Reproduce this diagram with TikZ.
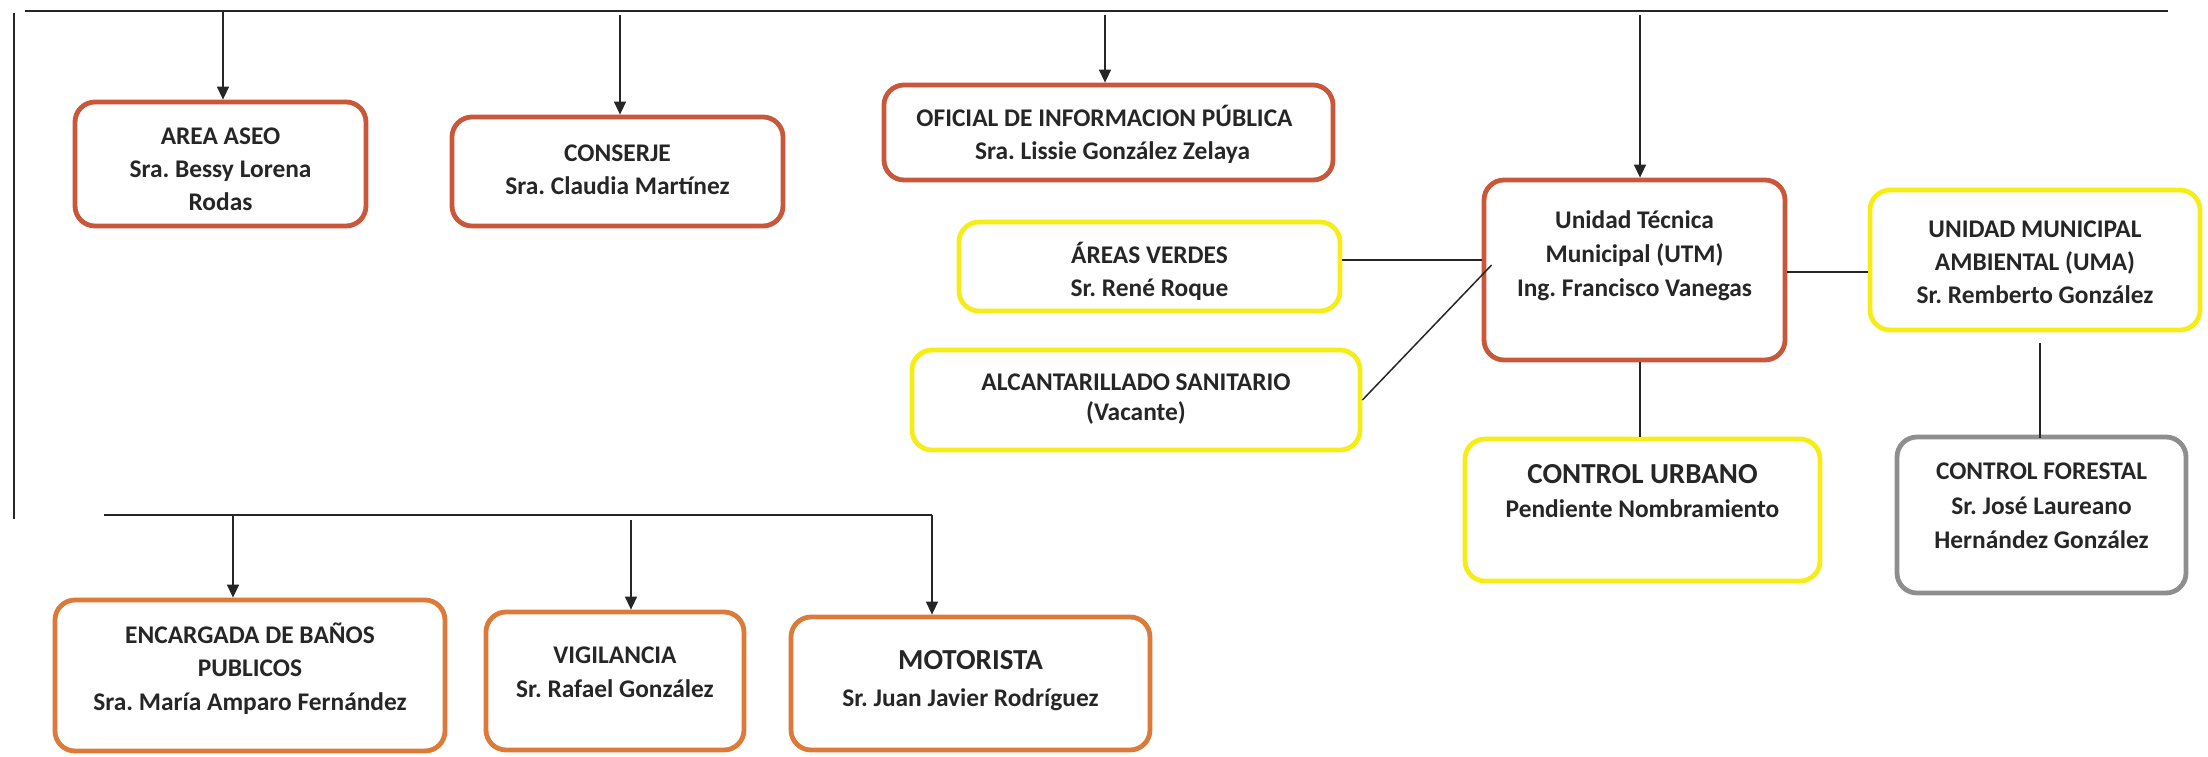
\documentclass[tikz,border=0pt]{standalone}
\usepackage{fontspec}
\setmainfont{Carlito}
\usetikzlibrary{arrows.meta,calc}
\definecolor{redor}{HTML}{C9573A}
\definecolor{oran}{HTML}{DC7A3A}
\definecolor{yel}{HTML}{F6EC16}
\definecolor{gry}{HTML}{8E8E8E}
\definecolor{ink}{HTML}{262626}
\frenchspacing
\begin{document}
\begin{tikzpicture}[x=0.5pt,y=-0.5pt,
  box/.style={draw=#1,line width=2.4pt,rounded corners=10pt,inner sep=0pt},
  txt/.style={font=\bfseries\fontsize{12.7}{16.6}\selectfont,align=center,text=ink,inner sep=0pt},
  conn/.style={draw=ink,line width=0.75pt},
  thick conn/.style={draw=ink,line width=1.2pt},
  arr/.style={conn,-{Triangle[length=6.5pt,width=6pt]}}]
\useasboundingbox (0,0) rectangle (2208,756);

% boxes
\node[box=redor,minimum width=145.5pt,minimum height=62pt] (aseo) at (220.5,164) {};
\node[box=redor,minimum width=165.5pt,minimum height=54.5pt] (conserje) at (617.5,171.5) {};
\node[box=redor,minimum width=224.5pt,minimum height=47.5pt] (oficial) at (1108.5,132.5) {};
\node[box=yel,minimum width=190.5pt,minimum height=44.5pt] (verdes) at (1149.5,266.5) {};
\node[box=yel,minimum width=224pt,minimum height=50pt] (alcant) at (1136,400) {};
\node[box=redor,minimum width=150.5pt,minimum height=90pt] (utm) at (1634.5,270) {};
\node[box=yel,minimum width=165pt,minimum height=70pt] (uma) at (2035,260) {};
\node[box=yel,minimum width=177.5pt,minimum height=71pt] (urbano) at (1642.5,510) {};
\node[box=gry,minimum width=144.5pt,minimum height=78pt] (forestal) at (2041.5,515) {};
\node[box=oran,minimum width=195pt,minimum height=75.5pt] (banos) at (250,675.5) {};
\node[box=oran,minimum width=129pt,minimum height=69pt] (vigil) at (615,681) {};
\node[box=oran,minimum width=179.5pt,minimum height=66.5pt] (motor) at (970.5,683.5) {};

% texts
\node[txt] (aseoT) at ($(aseo)+(0,5)$) {AREA ASEO\\Sra. Bessy Lorena\\Rodas};
\node[txt] (conserjeT) at ($(conserje)+(0,-2)$) {CONSERJE\\Sra. Claudia Martínez};
\node[txt] (oficialT) at ($(oficial)+(-4,2)$) {OFICIAL DE INFORMACION PÚBLICA\\\hspace*{8pt}Sra. Lissie González Zelaya};
\node[txt] (verdesT) at ($(verdes)+(0,5)$) {ÁREAS VERDES\\Sr. René Roque};
\node[txt,font=\bfseries\fontsize{12.7}{14.6}\selectfont] (alcantT) at ($(alcant)+(0,-1)$) {ALCANTARILLADO SANITARIO\\(Vacante)};
\node[txt,font=\fontsize{12.7}{17}\selectfont] (utmT) at ($(utm)+(0,-14)$) {\textbf{Unidad Técnica}\\\textbf{Municipal (UTM)}\\\textbf{Ing. Francisco Vanegas}};
\node[txt] (umaT) at ($(uma)+(0,2)$) {UNIDAD MUNICIPAL\\AMBIENTAL (UMA)\\Sr. Remberto González};
\node[txt,font=\bfseries\fontsize{12.7}{17}\selectfont] (urbanoT) at ($(urbano)+(0,-19)$) {{\fontsize{14.5}{17}\selectfont CONTROL URBANO}\\Pendiente Nombramiento};
\node[txt,font=\bfseries\fontsize{12.7}{17.2}\selectfont] (forestalT) at ($(forestal)+(0,-9)$) {CONTROL FORESTAL\\Sr. José Laureano\\Hernández González};
\node[txt] (banosT) at ($(banos)+(0,-7)$) {ENCARGADA DE BAÑOS\\PUBLICOS\\Sra. María Amparo Fernández};
\node[txt,font=\bfseries\fontsize{12.7}{17.2}\selectfont] (vigilT) at ($(vigil)+(0,-9)$) {VIGILANCIA\\Sr. Rafael González};
\node[txt,font=\bfseries\fontsize{12.7}{18.5}\selectfont] (motorT) at ($(motor)+(0,-3)$) {{\fontsize{14.5}{17}\selectfont MOTORISTA}\\Sr. Juan Javier Rodríguez};

% top bus
\coordinate (tl) at (25,11);
\coordinate (tr) at (2168,11);
\coordinate (lt) at (14,13);
\coordinate (lb) at (14,519);
\draw[thick conn] (tl) -- (tr);
\draw[conn] (lt) -- (lb);
\coordinate (t1) at (223,11);
\coordinate (t2) at (620,15);
\coordinate (t3) at (1105,15);
\coordinate (t4) at (1640,15);
\draw[arr] (t1) -- (t1 |- aseo.north);
\draw[arr] (t2) -- (t2 |- conserje.north);
\draw[arr] (t3) -- (t3 |- oficial.north);
\draw[arr] (t4) -- (t4 |- utm.north);

% bottom bus
\coordinate (bl) at (104,515);
\coordinate (br) at (932,515);
\coordinate (b1) at (233,515);
\coordinate (b2) at (631,520);
\draw[thick conn] (bl) -- (br);
\draw[arr] (b1) -- (b1 |- banos.north);
\draw[arr] (b2) -- (b2 |- vigil.north);
\draw[arr] (br) -- (br |- motor.north);

% UTM links
\coordinate (hv) at (0,260);
\draw[thick conn] (verdes.east |- hv) -- (utm.west |- hv);
\draw[conn] (alcant.east) -- ($(utm.west)+(10,-5)$);
\coordinate (h1) at (0,272);
\draw[thick conn] (utm.east |- h1) -- (uma.west |- h1);
\coordinate (vx) at (1640,0);
\draw[conn] (vx |- utm.south) -- (vx |- urbano.north);
\coordinate (vf) at (2040,0);
\draw[conn] ($(vf |- uma.south)+(0,11)$) -- ($(vf |- forestal.north)+(0,3)$);
\end{tikzpicture}
\end{document}
